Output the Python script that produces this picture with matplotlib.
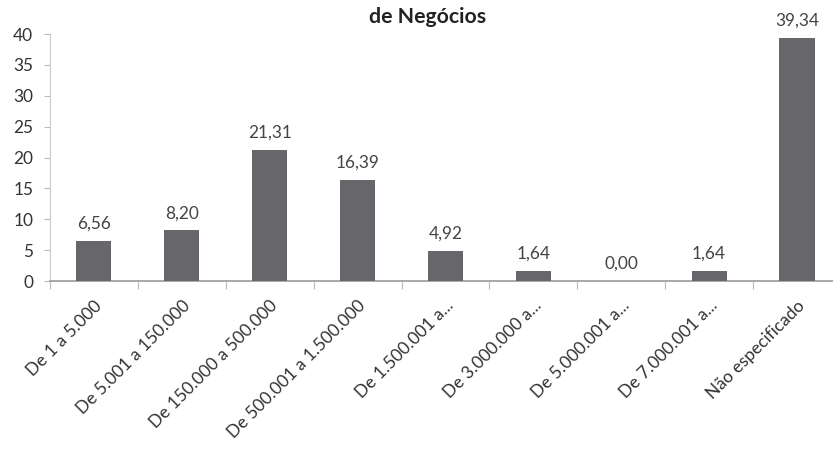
import matplotlib.pyplot as plt
import numpy as np

plt.rcParams['font.family'] = ['Lato', 'DejaVu Sans']

categories = ['De 1 a 5.000', 'De 5.001 a 150.000', 'De 150.000 a 500.000',
              'De 500.001 a 1.500.000', 'De 1.500.001 a...', 'De 3.000.000 a...',
              'De 5.000.001 a...', 'De 7.000.001 a...', 'Não especificado']
values = [6.56, 8.20, 21.31, 16.39, 4.92, 1.64, 0.00, 1.64, 39.34]
value_labels = ['6,56', '8,20', '21,31', '16,39', '4,92', '1,64', '0,00', '1,64', '39,34']

fig = plt.figure(figsize=(8.33, 4.49), dpi=100)
ax = fig.add_axes([0.060, 0.374, 0.94, 0.550])

x = np.arange(len(categories))
ax.bar(x, values, width=0.4, color='#67676b', zorder=3)

#value labels above bars
for xi, v, lab in zip(x, values, value_labels):
    ax.text(xi, v + 1.5, lab, ha='center', va='bottom', fontsize=12.4, color='#444444')

ax.set_xlim(-0.5, 8.41)
ax.set_ylim(0, 40)
ax.set_yticks(range(0, 41, 5))
ax.tick_params(axis='y', labelsize=12.4, colors='#bbbbbb', labelcolor='#333333', length=4, pad=8)

#ticks between categories, labels at the centers
ax.set_xticks(np.arange(-0.5, 8.5, 1.0))
ax.set_xticklabels([])
ax.set_xticks(x, minor=True)
ax.set_xticklabels(categories, minor=True, rotation=45, ha='right', rotation_mode='anchor',
                   fontsize=12.5, color='#333333')
ax.tick_params(axis='x', which='major', length=6, colors='#bbbbbb')
ax.tick_params(axis='x', which='minor', length=0, pad=12)

for s in ['top', 'right']:
    ax.spines[s].set_visible(False)
ax.spines['left'].set_color('#cccccc')
ax.spines['bottom'].set_color('#999999')
ax.spines['bottom'].set_linewidth(1.2)

fig.text(0.513, 0.962, 'de Negócios', ha='center', va='center', fontsize=15.3, fontweight='bold', color='#222222')

fig.savefig('out.png', dpi=100)
